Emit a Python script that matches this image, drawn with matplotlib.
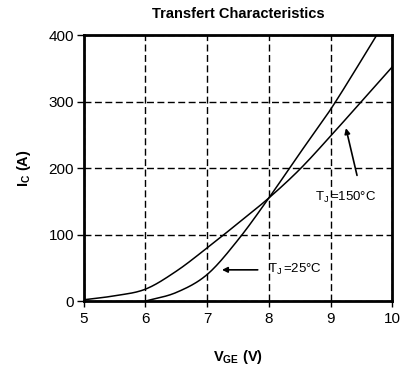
import matplotlib
matplotlib.use("Agg")
import matplotlib.pyplot as plt
import numpy as np

plt.rcParams["font.family"] = ["Liberation Sans", "DejaVu Sans"]
plt.rcParams["mathtext.fontset"] = "custom"
plt.rcParams["mathtext.rm"] = "Liberation Sans"
plt.rcParams["mathtext.it"] = "Liberation Sans"
plt.rcParams["mathtext.bf"] = "Liberation Sans:bold"

# curve readings from the picture
vge_150 = [5.0, 5.5, 6.0, 6.5, 7.0, 7.5, 8.0, 8.5, 9.0, 9.5, 10.0]
ic_150 = [2, 8, 18, 45, 80, 117, 155, 198, 248, 300, 352]
vge_25 = [6.0, 6.5, 7.0, 7.5, 8.0, 8.5, 9.0, 9.5, 9.75]
ic_25 = [0, 13, 40, 92, 155, 222, 288, 362, 400]

x_ticks = [5, 6, 7, 8, 9, 10]
y_ticks = [0, 100, 200, 300, 400]


def smooth(xs, ys):
    # Catmull-Rom through the read points, only to draw a smooth line
    pts = np.column_stack([np.asarray(xs, float), np.asarray(ys, float)])
    P = np.vstack([2 * pts[0] - pts[1], pts, 2 * pts[-1] - pts[-2]])
    out = []
    for i in range(1, len(P) - 2):
        p0, p1, p2, p3 = P[i - 1], P[i], P[i + 1], P[i + 2]
        for t in np.linspace(0, 1, 20, endpoint=False):
            t2, t3 = t * t, t * t * t
            out.append(0.5 * ((2 * p1) + (-p0 + p2) * t
                              + (2 * p0 - 5 * p1 + 4 * p2 - p3) * t2
                              + (-p0 + 3 * p1 - 3 * p2 + p3) * t3))
    out.append(pts[-1])
    out = np.array(out)
    return out[:, 0], out[:, 1]


fig = plt.figure(figsize=(4.01, 3.69), dpi=100)
ax = fig.add_axes([0.209, 0.184, 0.769, 0.721])

x1, y1 = smooth(vge_150, ic_150)
x2, y2 = smooth(vge_25, ic_25)
ax.plot(x1, y1, color="black", lw=1.1)
ax.plot(x2, y2, color="black", lw=1.1)

ax.set_xlim(5, 10)
ax.set_ylim(0, 400)
ax.set_xticks(x_ticks)
ax.set_yticks(y_ticks)
ax.grid(True, color="black", linestyle=(0, (5, 2.5)), lw=1.0)
for s in ax.spines.values():
    s.set_linewidth(2)
ax.tick_params(axis="y", direction="out", length=5, width=1, labelsize=11, pad=2)
ax.tick_params(axis="x", direction="out", length=4, width=1, labelsize=11, pad=4)

ax.set_title("Transfert Characteristics", fontsize=10.5, fontweight="bold", pad=12)
ax.set_xlabel(r"$\mathbf{V_{GE}}$ (V)", fontsize=10.5, fontweight="bold", labelpad=16)
ax.set_ylabel(r"$\mathbf{I_{C}}$ (A)", fontsize=10.5, fontweight="bold", labelpad=11)

lab25 = r"$\mathrm{T_J}\,$=25°C"
lab150 = r"$\mathrm{T_J}\,$=150°C"
arrow = dict(arrowstyle="-|>", color="black", lw=1.2,
             mutation_scale=8, shrinkA=0, shrinkB=0)
ax.annotate("", xy=(7.24, 47), xytext=(7.82, 47), arrowprops=arrow)
ax.text(7.98, 47, lab25, fontsize=9.5, va="center", ha="left")
ax.annotate("", xy=(9.25, 260), xytext=(9.43, 189), arrowprops=arrow)
ax.text(8.75, 156, lab150, fontsize=9.5, va="center", ha="left")

fig.savefig("out.png", dpi=100)
